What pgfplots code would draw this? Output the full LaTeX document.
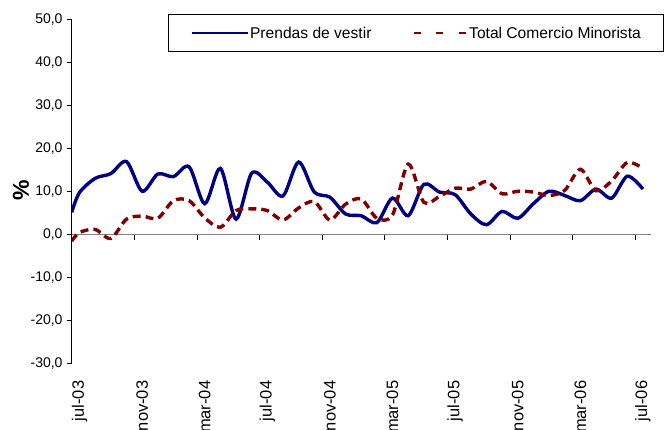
\documentclass[border=0pt]{standalone}
\usepackage{fontspec}
\setmainfont{Liberation Sans}
\usepackage{pgfplots}
\pgfplotsset{compat=1.18}
\usepackage{pgfplotstable}
\definecolor{navyb}{RGB}{0,0,128}
\definecolor{maroonr}{RGB}{128,0,0}
\definecolor{zeroline}{RGB}{128,128,128}

\pgfplotstableread{
k     blue  red
-0.5  5.2  -1.5
0     9.8   0.5
1    13.1   1.2
2    14.2  -0.9
3    17.0   3.6
4    10.1   4.3
5    14.1   3.8
6    13.5   7.9
7    15.8   7.9
8     7.2   3.9
9    15.4   1.7
10    3.6   5.6
11   14.3   6.0
12   12.2   5.6
13    9.0   3.4
14   16.9   6.2
15    9.9   7.7
16    8.7   3.4
17    4.8   7.1
18    4.4   8.3
19    2.8   3.8
20    8.5   4.6
21    4.4  16.4
22   11.7   7.5
23    9.9   8.9
24    9.3  10.8
25    4.8  10.6
26    2.3  12.4
27    5.4   9.5
28    3.8  10.1
29    7.2   9.9
30   10.1   9.1
31    9.1  10.3
32    7.9  15.2
33   10.6  10.2
34    8.5  12.5
35   13.6  16.8
36   10.6  15.4
}\datatable

\begin{document}
\begin{tikzpicture}
\useasboundingbox (0,0) rectangle (668bp,430bp);
\begin{axis}[
  at={(71.7bp,66.5bp)}, anchor=south west,
  scale only axis, width=579.1bp, height=343.7bp,
  xmin=-0.5, xmax=36.5, ymin=-30, ymax=50,
  axis x line*=bottom, axis y line*=left,
  axis line style={-},
  x axis line style={draw=none},
  y axis line style={black, line width=0.8bp},
  xtick={0,4,...,36},
  xticklabels={jul-03,nov-03,mar-04,jul-04,nov-04,mar-05,jul-05,nov-05,mar-06,jul-06},
  major x tick style={draw=none},
  ytick={-30,-20,...,50},
  tick align=outside, major tick length=5bp,
  major y tick style={black, line width=0.8bp},
  y tick label style={font=\fontsize{14bp}{16bp}\selectfont, inner xsep=4bp},
  x tick label style={font=\fontsize{16.5bp}{19bp}\selectfont, rotate=90, anchor=east, inner xsep=12bp, inner ysep=0pt},
  /pgf/number format/fixed,
  /pgf/number format/fixed zerofill,
  /pgf/number format/precision=1,
  /pgf/number format/use comma,
  /pgf/number format/assume math mode=true,
  ylabel={\textbf{\%}},
  every axis y label/.style={at={(axis description cs:-0.0876,0.505)}, rotate=90, anchor=center, font=\fontsize{23bp}{26bp}\selectfont},
  legend columns=2,
  legend style={at={(axis description cs:0.1668,1.016)}, anchor=north west,
    draw=black, line width=0.8bp, inner xsep=21.7bp, inner ysep=12bp,
    font=\fontsize{15.6bp}{18bp}\selectfont,
    nodes={inner xsep=1bp, inner ysep=0pt},
    /tikz/every even column/.append style={column sep=40bp}},
]
\draw[zeroline, line width=0.8bp] (axis cs:-0.5,0) -- (axis cs:36.5,0);
\pgfplotsinvokeforeach{3.5,7.5,11.5,15.5,19.5,23.5,27.5,31.5,35.5}{
  \draw[black, line width=0.8bp] (axis cs:#1,0) -- ++(0bp,-5.5bp);
}
\addplot[navyb, line width=3.4bp, smooth, no markers,
  legend image code/.code={\draw[navyb, line width=2.7bp] (0bp,0bp) -- (56bp,0bp);}]
  table[x=k, y=blue] {\datatable};
\addlegendentry{Prendas de vestir}
\addplot[maroonr, line width=3.4bp, smooth, no markers, line cap=butt, dash pattern=on 8bp off 5bp,
  legend image code/.code={\draw[maroonr, line width=2.7bp, dash pattern=on 7bp off 15.5bp] (0bp,0bp) -- (53bp,0bp);}]
  table[x=k, y=red] {\datatable};
\addlegendentry{Total Comercio Minorista}
\end{axis}
\end{tikzpicture}
\end{document}
